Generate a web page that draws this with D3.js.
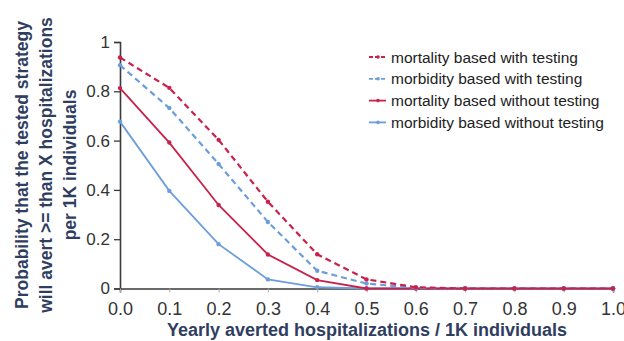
<!DOCTYPE html>
<html>
<head>
<meta charset="utf-8">
<script src="https://cdn.jsdelivr.net/npm/d3@7"></script>
<style>
  html, body { margin: 0; padding: 0; background: #fff; }
  svg { display: block; font-family: "Liberation Sans", Arial, sans-serif; }
</style>
</head>
<body>
<svg id="chart" width="624" height="341"></svg>
<script>
// Yearly averted hospitalizations per 1K individuals
const xValues = [0.0, 0.1, 0.2, 0.3, 0.4, 0.5, 0.6, 0.7, 0.8, 0.9, 1.0];

// Probability of averting at least X hospitalizations
const mortalityWithTesting     = [0.937, 0.814, 0.603, 0.352, 0.139, 0.037, 0.005, 0, 0, 0, 0];
const morbidityWithTesting     = [0.906, 0.732, 0.505, 0.270, 0.072, 0.020, 0.003, 0, 0, 0, 0];
const mortalityWithoutTesting  = [0.813, 0.592, 0.339, 0.138, 0.034, 0, 0, 0, 0, 0, 0];
const morbidityWithoutTesting  = [0.677, 0.396, 0.180, 0.037, 0.005, 0, 0, 0, 0, 0, 0];

const seriesNames = [
  "mortality based with testing",
  "morbidity based with testing",
  "mortality based without testing",
  "morbidity based without testing"
];

const yTicks = [0, 0.2, 0.4, 0.6, 0.8, 1];
const yTickLabels = ["0", "0.2", "0.4", "0.6", "0.8", "1"];
const xTickLabels = ["0.0", "0.1", "0.2", "0.3", "0.4", "0.5", "0.6", "0.7", "0.8", "0.9", "1.0"];

const red = "#c8224c";
const blue = "#6c9edb";

const series = [
  { name: seriesNames[0], values: mortalityWithTesting,    color: red,  dash: "6,4" },
  { name: seriesNames[1], values: morbidityWithTesting,    color: blue, dash: "6,4" },
  { name: seriesNames[2], values: mortalityWithoutTesting, color: red,  dash: null },
  { name: seriesNames[3], values: morbidityWithoutTesting, color: blue, dash: null }
];

const svg = d3.select("#chart");

const x = d3.scaleLinear().domain([0, 1]).range([120, 613]);
const y = d3.scaleLinear().domain([0, 1]).range([288.5, 42]);

const axisColor = "#3a3a3a";
const tickText = "#333";

// Y axis
const yAxis = svg.append("g")
  .attr("transform", `translate(${x(0)},0)`)
  .call(d3.axisLeft(y).tickValues(yTicks).tickFormat((d, i) => yTickLabels[i]).tickSize(6).tickPadding(4));
yAxis.select(".domain").attr("stroke", axisColor).attr("stroke-width", 1.6);
yAxis.selectAll(".tick line").attr("stroke", axisColor).attr("stroke-width", 1.3);
yAxis.selectAll(".tick text").attr("fill", tickText).style("font-size", "17px").attr("font-family", "Liberation Sans, Arial, sans-serif");

// X axis
const xAxis = svg.append("g")
  .attr("transform", `translate(0,${y(0)})`)
  .call(d3.axisBottom(x).tickValues(xValues).tickFormat((d, i) => xTickLabels[i]).tickSize(4).tickPadding(10));
xAxis.select(".domain").attr("stroke", axisColor).attr("stroke-width", 1.6);
xAxis.selectAll(".tick line").attr("stroke", "#aaa").attr("stroke-width", 1);
xAxis.selectAll(".tick text").attr("fill", tickText).style("font-size", "18px").attr("font-family", "Liberation Sans, Arial, sans-serif");

// Series lines and markers
const line = d3.line().x((d, i) => x(xValues[i])).y(d => y(d));
const plot = svg.append("g");
// draw solid series first so dashed curves sit on top near zero
[3, 2, 1, 0].forEach(k => {
  const s = series[k];
  plot.append("path")
    .attr("d", line(s.values))
    .attr("fill", "none")
    .attr("stroke", s.color)
    .attr("stroke-width", s.dash ? 2.2 : 1.8)
    .attr("stroke-dasharray", s.dash);
  plot.selectAll(null)
    .data(s.values)
    .enter().append("circle")
    .attr("cx", (d, i) => x(xValues[i]))
    .attr("cy", d => y(d))
    .attr("r", 2.2)
    .attr("fill", s.color);
});

// Legend
const legend = svg.append("g");
series.forEach((s, i) => {
  const cy = 57 + i * 21.8;
  legend.append("line")
    .attr("x1", 369).attr("x2", 386)
    .attr("y1", cy).attr("y2", cy)
    .attr("stroke", s.color)
    .attr("stroke-width", 1.8)
    .attr("stroke-dasharray", s.dash ? "4,2" : null);
  legend.append("circle").attr("cx", 378).attr("cy", cy).attr("r", 1.8).attr("fill", s.color);
  legend.append("text")
    .attr("x", 391).attr("y", cy + 5.5)
    .attr("fill", "#222")
    .style("font-size", "15.5px")
    .text(s.name);
});

// Axis titles
const titleColor = "#2f3e60";
svg.append("text")
  .attr("x", 367).attr("y", 336)
  .attr("text-anchor", "middle")
  .attr("fill", titleColor)
  .style("font-size", "18px").style("font-weight", "bold")
  .text("Yearly averted hospitalizations / 1K individuals");

const yTitleLines = [
  "Probability that the tested strategy",
  "will avert >= than X hospitalizations",
  "per 1K individuals"
];
const yTitle = svg.append("text")
  .attr("transform", "translate(0,165) rotate(-90)")
  .attr("text-anchor", "middle")
  .attr("fill", titleColor)
  .style("font-size", "17.5px").style("font-weight", "bold");
yTitleLines.forEach((t, i) => {
  yTitle.append("tspan").attr("x", 0).attr("y", 28 + i * 24).text(t);
});
</script>
</body>
</html>
